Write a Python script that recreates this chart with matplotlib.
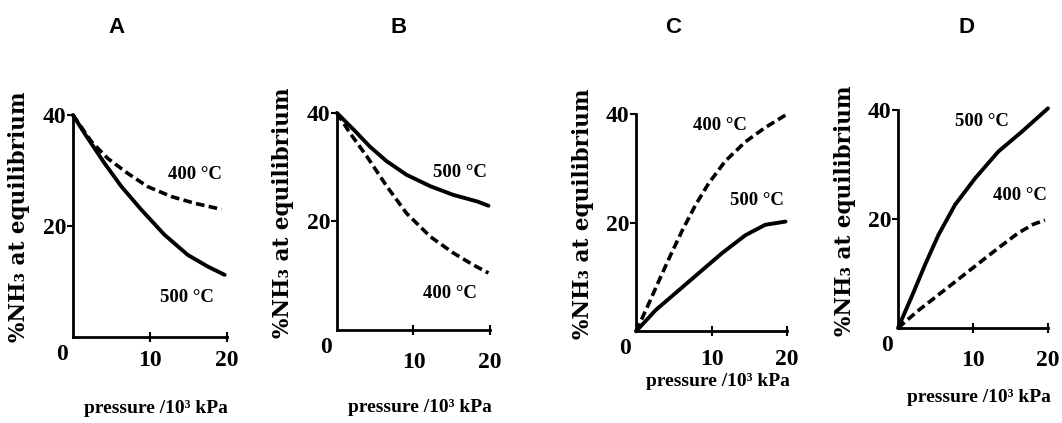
import matplotlib
matplotlib.use('Agg')
import matplotlib.pyplot as plt

# pressure (10^3 kPa) vs %NH3 at equilibrium
panels = ['A', 'B', 'C', 'D']

a_500_x = [0, 1.5, 4.1, 6.3, 8.9, 11.9, 14.9, 17.5, 19.7]
a_500_y = [40, 36.7, 31.3, 27.1, 22.9, 18.4, 14.8, 12.7, 11.2]
a_400_x = [0, 2.4, 4.5, 7.1, 9.7, 12.8, 15.8, 19.3]
a_400_y = [40, 35.2, 32.2, 29.5, 27.1, 25.3, 24.1, 23.0]

b_500_x = [0, 2.2, 4.3, 6.5, 9.1, 12.2, 15.2, 18.3, 19.8]
b_500_y = [40, 36.9, 33.8, 31.1, 28.6, 26.5, 24.9, 23.7, 22.9]
b_400_x = [0, 1.7, 3.9, 6.5, 9.1, 12.2, 15.2, 17.8, 19.8]
b_400_y = [40, 36.3, 32.0, 26.5, 21.5, 17.2, 14.2, 12.0, 10.5]

c_500_x = [0, 2.6, 5.2, 8.3, 11.4, 14.5, 17.1, 19.8]
c_500_y = [0, 3.9, 7.0, 10.7, 14.4, 17.7, 19.6, 20.2]
c_400_x = [0, 1.5, 3.0, 4.5, 6.1, 7.9, 9.6, 11.8, 14.5, 17.1, 19.8]
c_400_y = [0, 4.5, 9.2, 13.8, 18.5, 23.3, 27.2, 31.3, 34.9, 37.5, 39.8]

d_500_x = [0, 1.9, 3.6, 5.4, 7.6, 10.3, 13.4, 16.5, 20.0]
d_500_y = [0, 6.0, 11.6, 17.1, 22.6, 27.5, 32.4, 36.0, 40.3]
d_400_x = [0, 2.7, 5.4, 8.1, 10.7, 13.4, 16.0, 18.0, 19.6]
d_400_y = [0, 3.2, 6.1, 9.0, 11.8, 14.7, 17.4, 19.0, 19.8]

x_ticks = [10, 20]
y_ticks = [20, 40]

curves = {
    'A': ((a_500_x, a_500_y), (a_400_x, a_400_y)),
    'B': ((b_500_x, b_500_y), (b_400_x, b_400_y)),
    'C': ((c_500_x, c_500_y), (c_400_x, c_400_y)),
    'D': ((d_500_x, d_500_y), (d_400_x, d_400_y)),
}

# label positions (data coords) for 500 / 400 curve labels
label_pos = {
    'A': ((14.8, 7.2), (15.8, 29.2)),
    'B': ((16.1, 29.1), (14.8, 6.8)),
    'C': ((16.0, 24.1), (11.1, 37.9)),
    'D': ((11.2, 37.8), (16.3, 24.4)),
}

# axes rectangles in figure fractions
rects = {
    'A': [0.0687, 0.2033, 0.145, 0.5248],
    'B': [0.3173, 0.2199, 0.1441, 0.513],
    'C': [0.5989, 0.2168, 0.1422, 0.5137],
    'D': [0.8456, 0.2246, 0.1412, 0.5154],
}
xlabel_y = {'A': -0.285, 'B': -0.32, 'C': -0.19, 'D': -0.28}
xtick_pad = {'A': 6, 'B': 12, 'C': 9, 'D': 12}
title_x = {'A': 0.110, 'B': 0.375, 'C': 0.634, 'D': 0.910}

serif = ['Liberation Serif', 'DejaVu Serif']

fig = plt.figure(figsize=(10.62, 4.23), dpi=100)

for p in panels:
    ax = fig.add_axes(rects[p])
    (x5, y5), (x4, y4) = curves[p]
    ax.plot(x5, y5, color='black', lw=2.8, solid_capstyle='round', clip_on=False)
    ax.plot(x4, y4, color='black', lw=2.6, dashes=(2.4, 1.2), clip_on=False)

    ax.set_xlim(0, 20)
    ax.set_ylim(0, 40)
    for s in ['top', 'right']:
        ax.spines[s].set_visible(False)
    for s in ['left', 'bottom']:
        ax.spines[s].set_linewidth(2)

    ax.set_xticks(x_ticks)
    ax.set_xticklabels([str(t) for t in x_ticks])
    ax.set_yticks(y_ticks)
    ax.set_yticklabels([str(t) for t in y_ticks])
    ax.tick_params(axis='x', direction='inout', length=7, width=1.5, pad=xtick_pad[p])
    ax.tick_params(axis='y', direction='out', length=4, width=1.5, pad=1)
    for lab in ax.get_xticklabels() + ax.get_yticklabels():
        lab.set_family(serif)
        lab.set_fontweight('bold')
        lab.set_fontsize(17)
    ax.text(-0.072, -0.08, '0', transform=ax.transAxes, ha='center', va='center',
            family=serif, fontweight='bold', fontsize=17)

    ax.set_ylabel('%NH₃ at equilibrium', family=['DejaVu Serif'],
                  fontweight='bold', fontsize=15.5)
    ax.yaxis.set_label_coords(-0.28, 0.54)
    ax.set_xlabel('pressure /10³ kPa', family=serif, fontweight='bold', fontsize=14)
    ax.xaxis.set_label_coords(0.54, xlabel_y[p])

    (lx5, ly5), (lx4, ly4) = label_pos[p]
    ax.text(lx5, ly5, '500 °C', ha='center', va='center',
            family=serif, fontweight='bold', fontsize=13.5)
    ax.text(lx4, ly4, '400 °C', ha='center', va='center',
            family=serif, fontweight='bold', fontsize=13.5)

    fig.text(title_x[p], 0.935, p, ha='center', va='center',
             family=['Liberation Sans', 'DejaVu Sans'], fontweight='bold', fontsize=16)

fig.savefig('out.png', dpi=100)
